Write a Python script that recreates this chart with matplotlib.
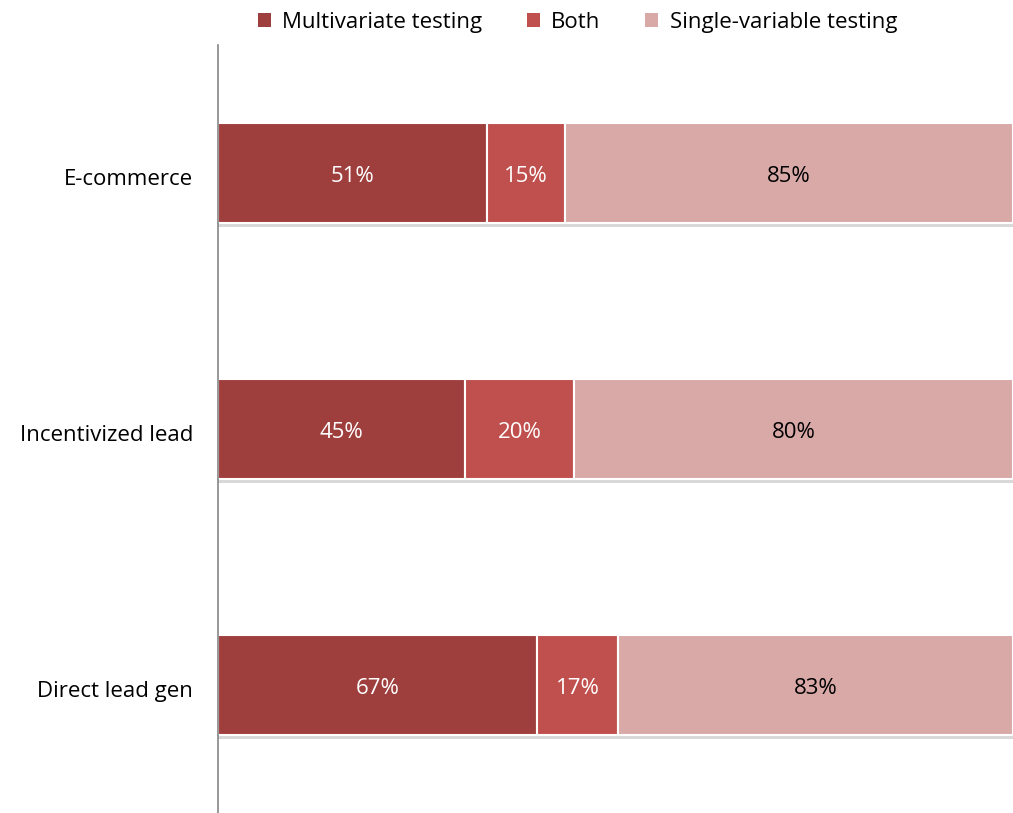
import numpy as np
import matplotlib
matplotlib.use("Agg")
import matplotlib.pyplot as plt
import matplotlib.patheffects as pe
from matplotlib.patches import Patch

plt.rcParams['font.family'] = ['Open Sans', 'DejaVu Sans']

categories = ["E-commerce", "Incentivized lead", "Direct lead gen"]
series_names = ["Multivariate testing", "Both", "Single-variable testing"]
multivariate = [51, 45, 67]
both = [15, 20, 17]
single = [85, 80, 83]
colors = ["#9E3F3E", "#C0504D", "#D9A9A8"]
text_colors = ["white", "white", "black"]

fig = plt.figure(figsize=(10.13, 8.13), dpi=100)
ax = fig.add_axes([218 / 1013, 0, 1 - 218 / 1013, 1 - 45 / 813])

values = np.array([multivariate, both, single], dtype=float)
totals = values.sum(axis=0)
shares = values / totals

y = np.arange(len(categories))
left = np.zeros(len(categories))
shadow = [pe.SimplePatchShadow(offset=(0, -3), shadow_rgbFace="#808080", alpha=0.3), pe.Normal()]
for i, name in enumerate(series_names):
    bars = ax.barh(y, shares[i], left=left, height=0.39, color=colors[i],
                   edgecolor="white", linewidth=1.5)
    for b in bars:
        b.set_path_effects(shadow)
    for j in range(len(categories)):
        ax.text(left[j] + shares[i][j] / 2, y[j] + 0.015, f"{int(values[i][j])}%",
                ha="center", va="center", fontsize=16, color=text_colors[i])
    left += shares[i]

ax.set_xlim(0, 1)
ax.set_ylim(2.5, -0.5)
ax.set_yticks(y + 0.015)
ax.set_yticklabels(categories, fontsize=16)
ax.tick_params(axis="y", length=0, pad=18)
ax.set_xticks([])
for s in ["top", "right", "bottom"]:
    ax.spines[s].set_visible(False)
ax.spines["left"].set_color("#868686")
ax.spines["left"].set_linewidth(1.2)

handles = [Patch(facecolor=c, edgecolor="none") for c in colors]
fig.legend(handles, series_names, loc="upper center", bbox_to_anchor=(0.57, 1.01), ncol=3,
           frameon=False, fontsize=16, handlelength=0.6, handleheight=0.6,
           handletextpad=0.5, columnspacing=2.0)

fig.savefig("out.png", dpi=100)
